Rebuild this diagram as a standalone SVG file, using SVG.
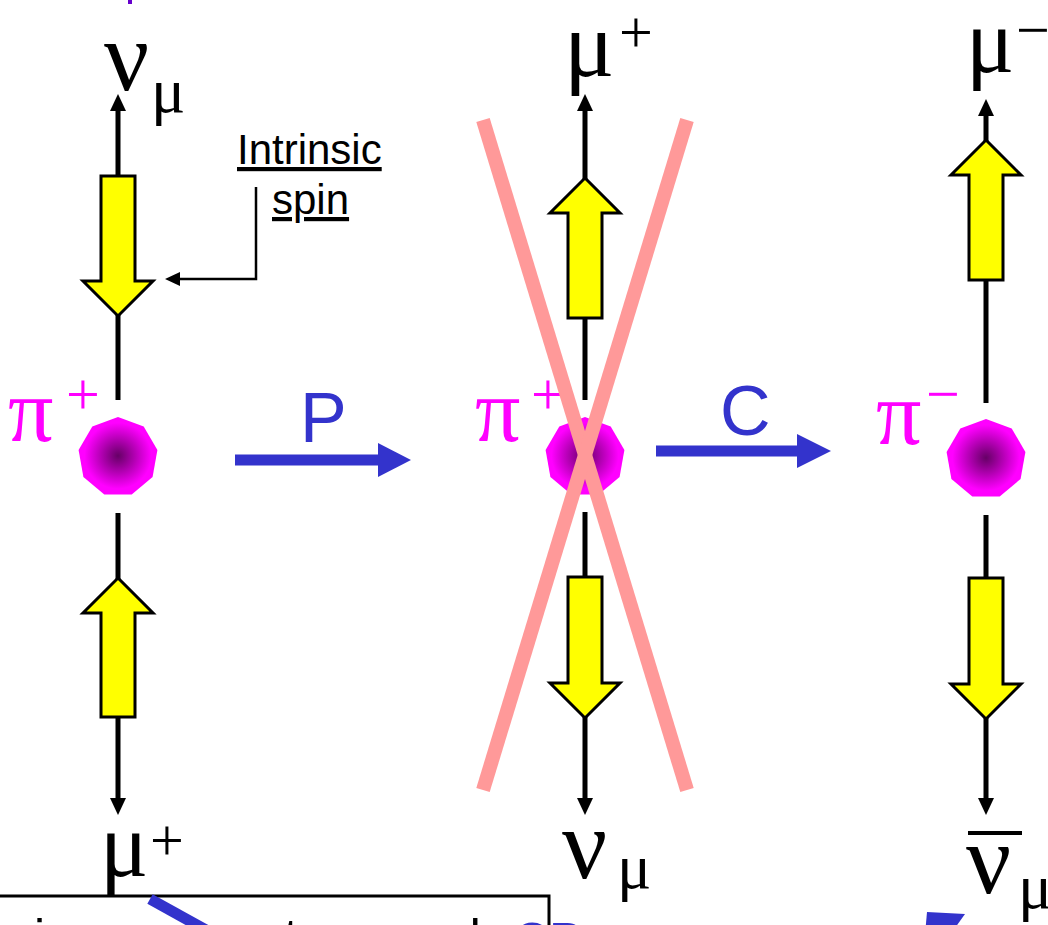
<svg xmlns="http://www.w3.org/2000/svg" width="1048" height="925" viewBox="0 0 1048 925">
<style>
.ln{stroke:#000;stroke-width:5;fill:none}
.spin{fill:#FFFF00;stroke:#000;stroke-width:3;stroke-linejoin:miter}
.gk{font-family:"Liberation Serif",serif;fill:#000}
.pi{font-family:"Liberation Serif",serif;fill:#FF00FF}
.sans{font-family:"Liberation Sans",Arial,sans-serif}
.blue{fill:#3333CC}
.big{stroke:#3333CC;stroke-width:11;fill:none}
.x{stroke:#FF9999;stroke-width:14;fill:none}
</style>
<defs>
<radialGradient id="pg" cx="0.5" cy="0.5" r="0.5">
<stop offset="0" stop-color="#660066"/>
<stop offset="0.85" stop-color="#FF00FF"/>
<stop offset="1" stop-color="#FF00FF"/>
</radialGradient>
<polygon id="pion" points="0,-40 25.7,-30.6 39.4,-6.9 34.6,20 13.7,37.6 -13.7,37.6 -34.6,20 -39.4,-6.9 -25.7,-30.6" fill="url(#pg)"/>
<polygon id="hu" points="0,-9 8,8 -8,8" fill="#000"/>
<polygon id="hd" points="0,9 8,-8 -8,-8" fill="#000"/>
</defs>
<rect width="1048" height="925" fill="#fff"/>
<rect x="128" y="0" width="4" height="4" fill="#6600CC"/>

<g id="connectors">
<line class="ln" x1="118" y1="104" x2="118" y2="400"/>
<line class="ln" x1="118" y1="513" x2="118" y2="806"/>
<use href="#hu" x="118" y="103"/>
<use href="#hd" x="118" y="806"/>
<line class="ln" x1="585" y1="104" x2="585" y2="400"/>
<line class="ln" x1="585" y1="512" x2="585" y2="806"/>
<use href="#hu" x="585" y="103"/>
<use href="#hd" x="585" y="806"/>
<line class="ln" x1="986" y1="109" x2="986" y2="403"/>
<line class="ln" x1="986" y1="515" x2="986" y2="806"/>
<use href="#hu" x="986" y="108"/>
<use href="#hd" x="986" y="806"/>
<polyline points="256,187 256,279 176,279" stroke="#000" stroke-width="2.5" fill="none"/>
<polygon points="165,279 180,272 180,286" fill="#000"/>
<line class="big" x1="235" y1="460" x2="382" y2="460"/>
<polygon points="378,443 411,460 378,477" class="blue"/>
<line class="big" x1="656" y1="451" x2="800" y2="451"/>
<polygon points="797,434 831,451 797,468" class="blue"/>
</g>

<g id="left-column">
<text class="gk" x="104" y="90" font-size="100">ν</text>
<text class="gk" x="151" y="112" font-size="64">μ</text>
<path class="spin" d="M101,176 L135,176 L135,281 L153,281 L118,316 L83,281 L101,281 Z"/>
<use href="#pion" x="118" y="457"/>
<text class="pi" x="8" y="441" font-size="90">π</text>
<text class="pi" x="66" y="414" font-size="60">+</text>
<path class="spin" d="M118,578 L153,613 L135,613 L135,717 L101,717 L101,613 L83,613 Z"/>
<text class="gk" x="100" y="876" font-size="90">μ</text>
<text class="gk" x="150" y="860" font-size="60">+</text>
</g>

<g id="intrinsic-label">
<text class="sans" x="237" y="164" font-size="42" fill="#000" text-decoration="underline">Intrinsic</text>
<text class="sans" x="272" y="214" font-size="42" fill="#000" text-decoration="underline">spin</text>
</g>

<g id="P-label"><text class="sans blue" x="300" y="442" font-size="70">P</text></g>
<g id="C-label"><text class="sans blue" x="720" y="435" font-size="70">C</text></g>

<g id="middle-column">
<text class="gk" x="564" y="76" font-size="94">μ</text>
<text class="gk" x="619" y="52" font-size="60">+</text>
<path class="spin" d="M585,178 L620,213 L602,213 L602,318 L568,318 L568,213 L550,213 Z"/>
<use href="#pion" x="585" y="457"/>
<text class="pi" x="475" y="441" font-size="90">π</text>
<text class="pi" x="531" y="414" font-size="60">+</text>
<path class="spin" d="M568,577 L602,577 L602,683 L620,683 L585,718 L550,683 L568,683 Z"/>
<text class="gk" x="562" y="878" font-size="100">ν</text>
<text class="gk" x="617" y="888" font-size="64">μ</text>
</g>

<g id="cross">
<line class="x" x1="483" y1="120" x2="687" y2="790"/>
<line class="x" x1="687" y1="120" x2="483" y2="790"/>
</g>

<g id="right-column">
<text class="gk" x="966" y="72" font-size="90">μ</text>
<text class="gk" x="1016" y="50" font-size="60">−</text>
<path class="spin" d="M986,140 L1021,175 L1003,175 L1003,280 L969,280 L969,175 L951,175 Z"/>
<use href="#pion" x="986" y="459"/>
<text class="pi" x="876" y="444" font-size="90">π</text>
<text class="pi" x="926" y="414" font-size="60">−</text>
<path class="spin" d="M969,578 L1003,578 L1003,684 L1021,684 L986,719 L951,684 L969,684 Z"/>
<line x1="968" y1="833" x2="1022" y2="833" stroke="#000" stroke-width="4"/>
<text class="gk" x="966" y="893" font-size="100">ν</text>
<text class="gk" x="1018" y="908" font-size="64">μ</text>
</g>

<g id="bottom-box">
<polyline points="0,896 549,896 549,925" stroke="#000" stroke-width="3" fill="none"/>
<text class="sans" x="34" y="954" font-size="50" fill="#000">i</text>
<text class="sans" x="284" y="954" font-size="50" fill="#000">t</text>
<text class="sans" x="453" y="954" font-size="50" fill="#000">d</text>
<text class="sans blue" x="513" y="958" font-size="50">CP</text>
<line x1="150" y1="899" x2="215" y2="935" stroke="#3333CC" stroke-width="11"/>
<polygon points="927,912 965,914 950,935 925,935" class="blue"/>
</g>
</svg>
